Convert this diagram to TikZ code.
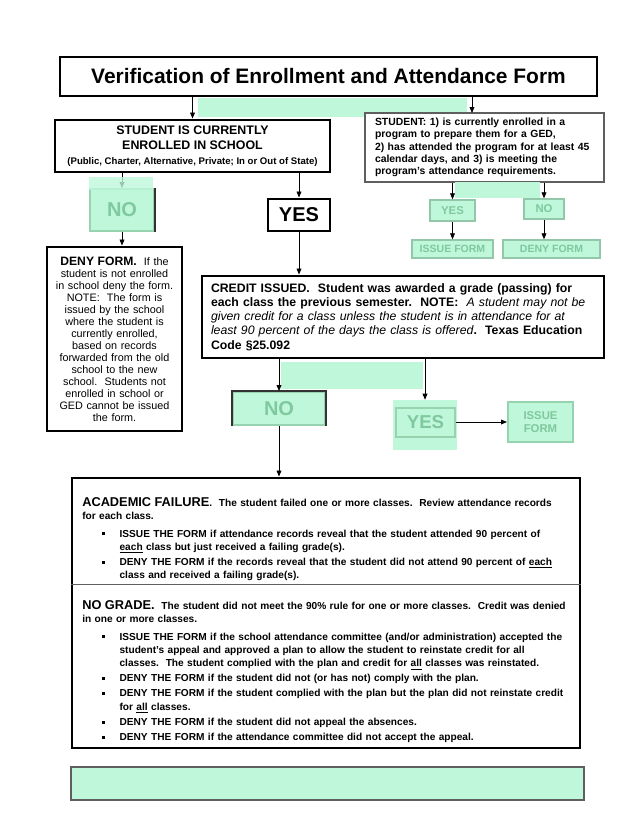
\documentclass[tikz,border=0pt]{standalone}
\usepackage{fontspec}
\setmainfont{Liberation Sans}
\usetikzlibrary{arrows.meta, positioning, calc}
\definecolor{MintFill}{RGB}{190, 247, 218}
\definecolor{MintEdge}{RGB}{150, 212, 176}
\definecolor{MintText}{RGB}{128, 200, 158}
\definecolor{FrameGray}{RGB}{95, 95, 95}
\setlength{\parindent}{0pt}
\newenvironment{formlist}{\begin{list}{\rule[1.3pt]{2.3pt}{2.3pt}}{%
  \setlength{\leftmargin}{28pt}\setlength{\labelwidth}{2.3pt}%
  \setlength{\labelsep}{11pt}\setlength{\itemsep}{1.3pt}%
  \setlength{\parsep}{0pt}\setlength{\topsep}{3.2pt}\setlength{\partopsep}{0pt}}}%
  {\end{list}}

\begin{document}
\begin{tikzpicture}[x=0.75pt, y=-0.75pt, >={Triangle[length=4.5pt, width=3.6pt]},
    thickbox/.style={draw=black, line width=2.2pt, fill=white, inner sep=0pt},
    thinbox/.style={draw=FrameGray, line width=0.8pt, fill=white, inner sep=0pt},
    mintbox/.style={draw=MintEdge, line width=1.5pt, fill=MintFill, text=MintText, inner sep=0pt},
    flow/.style={->, line width=0.6pt}]
  \useasboundingbox (0,0) rectangle (640,828);

  % Title
  \node[thickbox, minimum width=402.75pt, minimum height=29.25pt, font=\bfseries\fontsize{15.7}{18}\selectfont] (title) at (328.5,76.5) {Verification of Enrollment and Attendance Form};
  \fill[MintFill] (198,98) rectangle (467,117);

  % First question, school or GED
  \node[thickbox, minimum width=206.25pt, minimum height=39pt, align=center, font=\bfseries\fontsize{9.3}{11}\selectfont] (student) at (192.5,146) {STUDENT IS CURRENTLY\\ENROLLED IN SCHOOL\\{\fontsize{7.2}{9}\selectfont (Public, Charter, Alternative, Private; In or Out of State)}};
  \node[thinbox, minimum width=179.25pt, minimum height=51.75pt, text width=164.25pt, inner xsep=7.5pt, align=left, font=\bfseries\fontsize{7.8}{9.3}\selectfont] (ged) at (484.5,147.5) {STUDENT: 1) is currently enrolled in a\\program to prepare them for a GED,\\2) has attended the program for at least 45\\calendar days, and 3) is meeting the\\program’s attendance requirements.};
  \coordinate (gedin) at (472,113);
  \draw[flow] (title.south -| student) -- (student.north);
  \draw[flow] (title.south -| gedin) -- (gedin);

  % Not enrolled
  \node[mintbox, minimum width=48pt, minimum height=31.5pt, font=\bfseries\fontsize{15}{18}\selectfont] (nol) at (122,210) {NO};
  \draw[black!80, line width=0.8pt] (nol.north east) -- (nol.south east);
  \draw[flow] (student.south -| nol) -- (nol.north);
  \fill[MintFill, opacity=0.8] (89,177) rectangle (153,190);
  \node[thickbox, minimum width=101.25pt, minimum height=138pt, text width=98pt, align=center, font=\fontsize{8.1}{9}\selectfont] (deny) at (114.5,339) {{\bfseries\fontsize{9.1}{9}\selectfont DENY FORM.}\ \ If the\\student is not enrolled\\in school deny the form.\\NOTE:\ \ The form is\\issued by the school\\where the student is\\currently enrolled,\\based on records\\forwarded from the old\\school to the new\\school.\ \ Students not\\enrolled in school or\\GED cannot be issued\\the form.};
  \draw[flow] (nol.south) -- (nol.south |- deny.north);

  % Enrolled
  \node[thickbox, minimum width=46.5pt, minimum height=24pt, font=\bfseries\fontsize{15}{18}\selectfont] (yesl) at (299,215) {YES};
  \draw[flow] (student.south -| yesl) -- (yesl.north);
  \node[thickbox, minimum width=301.5pt, minimum height=61.5pt, text width=288pt, inner xsep=6.75pt, align=left, font=\bfseries\fontsize{9.2}{10.6}\selectfont] (credit) at (403,317) {CREDIT ISSUED.\ \ Student was awarded a grade (passing) for\\each class the previous semester.\ \ NOTE:\ \ {\mdseries\itshape A student may not be}\\{\mdseries\itshape given credit for a class unless the student is in attendance for at}\\{\mdseries\itshape least 90 percent of the days the class is offered}.\ \ Texas Education\\Code §25.092};
  \draw[flow] (yesl.south) -- (yesl.south |- credit.north);

  % GED branch
  \fill[MintFill] (455,182) rectangle (540,198);
  \node[mintbox, draw=MintEdge!85!gray, line width=1pt, minimum width=33.75pt, minimum height=15.75pt, font=\bfseries\fontsize{8.5}{9}\selectfont] (gyes) at (452.5,210.5) {YES};
  \node[mintbox, draw=MintEdge!85!gray, line width=1pt, minimum width=30pt, minimum height=15pt, font=\bfseries\fontsize{8.5}{9}\selectfont] (gno) at (544,209) {NO};
  \draw[flow] (ged.south -| gyes) -- (gyes.north);
  \draw[flow] (ged.south -| gno) -- (gno.north);
  \node[mintbox, draw=MintEdge!85!gray, line width=1pt, minimum width=60.75pt, minimum height=13.5pt, font=\bfseries\fontsize{7.9}{8}\selectfont] (gissue) at (452.5,249) {ISSUE FORM};
  \node[mintbox, draw=MintEdge!85!gray, line width=1pt, minimum width=72.75pt, minimum height=13.5pt, font=\bfseries\fontsize{7.9}{8}\selectfont] (gdeny) at (551.5,249) {DENY FORM};
  \draw[flow] (gyes) -- (gissue);
  \draw[flow] (gno.south) -- (gno.south |- gdeny.north);

  % Credit branch
  \fill[MintFill] (281,362) rectangle (423,389);
  \node[mintbox, minimum width=69pt, minimum height=24.75pt, font=\bfseries\fontsize{15}{16}\selectfont] (cno) at (279,408.5) {NO};
  \draw[black!80, line width=0.8pt] (cno.south west) -- (cno.north west) -- (cno.north east) -- (cno.south east);
  \draw[flow] (credit.south -| cno) -- (cno.north);
  \node[fill=MintFill, inner sep=0pt, minimum width=48pt, minimum height=37.5pt] (cyesbg) at (425,425) {};
  \node[mintbox, minimum width=44.25pt, minimum height=21.75pt, font=\bfseries\fontsize{14}{15}\selectfont] (cyes) at (425.5,422) {YES};
  \draw[flow] (credit.south -| cyesbg) -- (cyesbg.north);
  \node[mintbox, minimum width=48.75pt, minimum height=30pt, align=center, font=\bfseries\fontsize{8.5}{10}\selectfont] (cissue) at (540.5,422) {ISSUE\\FORM};
  \draw[flow] (cyes.east) -- (cissue.west);

  % Failure and no grade
  \node[thickbox, minimum width=381pt, minimum height=202.5pt] (fail) at (326,613) {};
  \coordinate (split) at (326,584);
  \draw[FrameGray, line width=0.6pt] (fail.west |- split) -- (fail.east |- split);
  \draw[flow] (cno.south) -- (cno.south |- fail.north);
  \node[anchor=north west, inner sep=0pt, text width=374pt, align=left, font=\bfseries\fontsize{7.6}{10}\selectfont] (acad) at (82,497) {{\fontsize{9.6}{10}\selectfont ACADEMIC FAILURE}.\ \ The student failed one or more classes.\ \ Review attendance records\\for each class.
    \begin{formlist}
    \item ISSUE THE FORM if attendance records reveal that the student attended 90 percent of\newline\underline{each} class but just received a failing grade(s).
    \item DENY THE FORM if the records reveal that the student did not attend 90 percent of \underline{each}\newline class and received a failing grade(s).
    \end{formlist}};
  \node[anchor=north west, inner sep=0pt, text width=374pt, align=left, font=\bfseries\fontsize{7.6}{10}\selectfont] (nograde) at (82,600) {{\fontsize{9.6}{10}\selectfont NO GRADE.}\ \ The student did not meet the 90\% rule for one or more classes.\ \ Credit was denied\\in one or more classes.
    \begin{formlist}
    \item ISSUE THE FORM if the school attendance committee (and/or administration) accepted the\newline student’s appeal and approved a plan to allow the student to reinstate credit for all\newline classes.\ \ The student complied with the plan and credit for \underline{all} classes was reinstated.
    \item DENY THE FORM if the student did not (or has not) comply with the plan.
    \item DENY THE FORM if the student complied with the plan but the plan did not reinstate credit\newline for \underline{all} classes.
    \item DENY THE FORM if the student did not appeal the absences.
    \item DENY THE FORM if the attendance committee did not accept the appeal.
    \end{formlist}};

  % Footer band
  \node[fill=MintFill, draw=FrameGray, line width=0.8pt, minimum width=384.75pt, minimum height=24.75pt] (footer) at (327.5,783.5) {};
\end{tikzpicture}
\end{document}
